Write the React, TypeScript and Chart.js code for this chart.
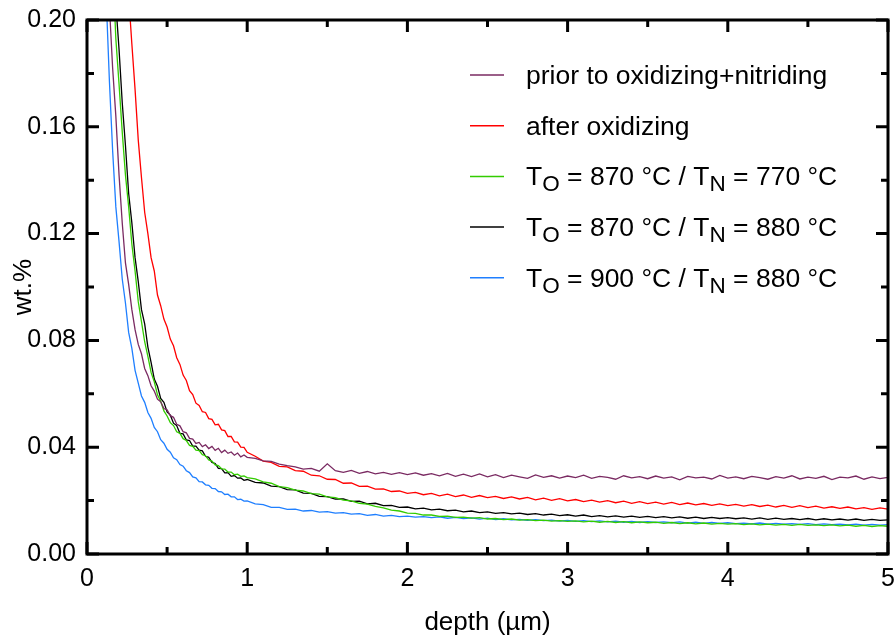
import React, { useEffect, useRef } from "react";
import { Chart, registerables } from "chart.js";

Chart.register(...registerables);

// depth in µm
const depth = [
  0.10, 0.12, 0.14, 0.16, 0.18, 0.20, 0.22, 0.24, 0.26, 0.28,
  0.30, 0.32, 0.34, 0.36, 0.38, 0.40, 0.42, 0.44, 0.46, 0.48,
  0.50, 0.52, 0.54, 0.56, 0.58, 0.60, 0.62, 0.64, 0.66, 0.68,
  0.70, 0.72, 0.74, 0.76, 0.78, 0.80, 0.82, 0.84, 0.86, 0.88,
  0.90, 0.92, 0.94, 0.96, 0.98, 1.00,
  1.05, 1.10, 1.15, 1.20, 1.25, 1.30, 1.35, 1.40, 1.45, 1.50,
  1.55, 1.60, 1.65, 1.70, 1.75, 1.80, 1.85, 1.90, 1.95, 2.00,
  2.05, 2.10, 2.15, 2.20, 2.25, 2.30, 2.35, 2.40, 2.45, 2.50,
  2.55, 2.60, 2.65, 2.70, 2.75, 2.80, 2.85, 2.90, 2.95, 3.00,
  3.05, 3.10, 3.15, 3.20, 3.25, 3.30, 3.35, 3.40, 3.45, 3.50,
  3.55, 3.60, 3.65, 3.70, 3.75, 3.80, 3.85, 3.90, 3.95, 4.00,
  4.05, 4.10, 4.15, 4.20, 4.25, 4.30, 4.35, 4.40, 4.45, 4.50,
  4.55, 4.60, 4.65, 4.70, 4.75, 4.80, 4.85, 4.90, 4.95, 5.00,
];

// wt.% – prior to oxidizing+nitriding
const priorToOxNit = [
  0.255, 0.229, 0.205, 0.182, 0.164, 0.142, 0.124, 0.109, 0.101, 0.0915,
  0.0840, 0.0785, 0.0750, 0.0695, 0.0668, 0.0630, 0.0610, 0.0580, 0.0570, 0.0545,
  0.0540, 0.0518, 0.0512, 0.0486, 0.0480, 0.0458, 0.0454, 0.0433, 0.0430, 0.0414,
  0.0418, 0.0402, 0.0409, 0.0395, 0.0403, 0.0388, 0.0396, 0.0380, 0.0389, 0.0377,
  0.0382, 0.0370, 0.0378, 0.0364, 0.0371, 0.0362,
  0.0358, 0.0349, 0.0347, 0.0337, 0.0331, 0.0326, 0.0318, 0.0321, 0.0310, 0.0338,
  0.0312, 0.0306, 0.0313, 0.0302, 0.0309, 0.0300, 0.0306, 0.0298, 0.0305, 0.0297,
  0.0304, 0.0295, 0.0301, 0.0293, 0.0302, 0.0291, 0.0299, 0.0290, 0.0300, 0.0289,
  0.0297, 0.0286, 0.0295, 0.0289, 0.0283, 0.0296, 0.0287, 0.0293, 0.0284, 0.0292,
  0.0286, 0.0295, 0.0283, 0.0291, 0.0287, 0.0280, 0.0293, 0.0285, 0.0290, 0.0282,
  0.0292, 0.0284, 0.0289, 0.0278, 0.0291, 0.0285, 0.0288, 0.0281, 0.0294, 0.0284,
  0.0289, 0.0282, 0.0291, 0.0286, 0.0280, 0.0290, 0.0284, 0.0293, 0.0281, 0.0288,
  0.0283, 0.0291, 0.0279, 0.0288, 0.0285, 0.0292, 0.0280, 0.0289, 0.0282, 0.0287,
];

// wt.% – after oxidizing
const afterOxidizing = [
  0.360, 0.340, 0.320, 0.300, 0.280, 0.263, 0.245, 0.227, 0.209, 0.191,
  0.174, 0.155, 0.141, 0.128, 0.120, 0.111, 0.106, 0.097, 0.093, 0.0880,
  0.0850, 0.0805, 0.0780, 0.0735, 0.0710, 0.0670, 0.0650, 0.0612, 0.0597, 0.0565,
  0.0556, 0.0533, 0.0530, 0.0507, 0.0504, 0.0484, 0.0486, 0.0465, 0.0462, 0.0440,
  0.0440, 0.0420, 0.0419, 0.0400, 0.0399, 0.0381,
  0.0366, 0.0348, 0.0343, 0.0328, 0.0326, 0.0312, 0.0310, 0.0295, 0.0293, 0.0280,
  0.0279, 0.0265, 0.0266, 0.0253, 0.0254, 0.0243, 0.0244, 0.0234, 0.0236, 0.0227,
  0.0231, 0.0222, 0.0227, 0.0218, 0.0224, 0.0215, 0.0221, 0.0212, 0.0219, 0.0211,
  0.0216, 0.0208, 0.0214, 0.0206, 0.0212, 0.0203, 0.0209, 0.0201, 0.0207, 0.0199,
  0.0204, 0.0196, 0.0202, 0.0194, 0.0200, 0.0192, 0.0198, 0.0190, 0.0196, 0.0189,
  0.0194, 0.0187, 0.0193, 0.0185, 0.0191, 0.0184, 0.0189, 0.0182, 0.0188, 0.0181,
  0.0186, 0.0179, 0.0185, 0.0178, 0.0183, 0.0176, 0.0182, 0.0175, 0.0181, 0.0174,
  0.0179, 0.0172, 0.0177, 0.0171, 0.0176, 0.0169, 0.0174, 0.0167, 0.0173, 0.0168,
];

// wt.% – T_O = 870 °C / T_N = 770 °C
const tO870tN770 = [
  0.300, 0.272, 0.246, 0.221, 0.193, 0.176, 0.158, 0.142, 0.130, 0.116,
  0.106, 0.0945, 0.0870, 0.0795, 0.0740, 0.0680, 0.0645, 0.0596, 0.0572, 0.0536,
  0.0517, 0.0492, 0.0481, 0.0458, 0.0452, 0.0432, 0.0425, 0.0407, 0.0403, 0.0389,
  0.0387, 0.0372, 0.0368, 0.0352, 0.0348, 0.0334, 0.0331, 0.0319, 0.0318, 0.0307,
  0.0307, 0.0297, 0.0299, 0.0291, 0.0292, 0.0286,
  0.0281, 0.0270, 0.0265, 0.0252, 0.0249, 0.0239, 0.0236, 0.0226, 0.0224, 0.0214,
  0.0211, 0.0202, 0.0199, 0.0190, 0.0187, 0.0178, 0.0173, 0.0164, 0.0161, 0.0153,
  0.0152, 0.0146, 0.0146, 0.0141, 0.0142, 0.0137, 0.0138, 0.0134, 0.0136, 0.0131,
  0.0133, 0.0129, 0.0131, 0.0127, 0.0129, 0.0125, 0.0127, 0.0123, 0.0125, 0.0122,
  0.0124, 0.0120, 0.0123, 0.0119, 0.0122, 0.0118, 0.0121, 0.0117, 0.0120, 0.0117,
  0.0119, 0.0115, 0.0118, 0.0114, 0.0117, 0.0113, 0.0116, 0.0112, 0.0115, 0.0112,
  0.0114, 0.0110, 0.0113, 0.0109, 0.0112, 0.0108, 0.0111, 0.0107, 0.0111, 0.0107,
  0.0109, 0.0106, 0.0109, 0.0105, 0.0108, 0.0104, 0.0107, 0.0103, 0.0106, 0.0104,
];

// wt.% – T_O = 870 °C / T_N = 880 °C
const tO870tN880 = [
  0.310, 0.285, 0.260, 0.235, 0.206, 0.189, 0.169, 0.153, 0.135, 0.124,
  0.111, 0.102, 0.0915, 0.0862, 0.0775, 0.0718, 0.0655, 0.0628, 0.0583, 0.0568,
  0.0532, 0.0520, 0.0490, 0.0481, 0.0452, 0.0450, 0.0427, 0.0425, 0.0404, 0.0404,
  0.0389, 0.0386, 0.0366, 0.0362, 0.0343, 0.0339, 0.0321, 0.0320, 0.0304, 0.0305,
  0.0291, 0.0294, 0.0284, 0.0285, 0.0276, 0.0279,
  0.0268, 0.0266, 0.0254, 0.0252, 0.0241, 0.0240, 0.0228, 0.0227, 0.0216, 0.0215,
  0.0206, 0.0206, 0.0197, 0.0198, 0.0188, 0.0190, 0.0181, 0.0182, 0.0175, 0.0176,
  0.0169, 0.0172, 0.0165, 0.0168, 0.0162, 0.0164, 0.0158, 0.0161, 0.0155, 0.0158,
  0.0152, 0.0155, 0.0150, 0.0153, 0.0148, 0.0151, 0.0146, 0.0149, 0.0144, 0.0147,
  0.0142, 0.0146, 0.0140, 0.0144, 0.0139, 0.0143, 0.0138, 0.0142, 0.0137, 0.0141,
  0.0136, 0.0140, 0.0135, 0.0139, 0.0134, 0.0138, 0.0133, 0.0137, 0.0133, 0.0136,
  0.0132, 0.0135, 0.0131, 0.0135, 0.0130, 0.0134, 0.0130, 0.0133, 0.0129, 0.0133,
  0.0128, 0.0132, 0.0128, 0.0131, 0.0127, 0.0131, 0.0126, 0.0130, 0.0126, 0.0128,
];

// wt.% – T_O = 900 °C / T_N = 880 °C
const tO900tN880 = [
  0.245, 0.208, 0.177, 0.151, 0.130, 0.117, 0.103, 0.094, 0.083, 0.0770,
  0.0688, 0.0640, 0.0592, 0.0568, 0.0530, 0.0508, 0.0474, 0.0458, 0.0428, 0.0415,
  0.0392, 0.0381, 0.0360, 0.0353, 0.0335, 0.0329, 0.0312, 0.0305, 0.0289, 0.0285,
  0.0271, 0.0270, 0.0259, 0.0257, 0.0246, 0.0245, 0.0234, 0.0233, 0.0223, 0.0224,
  0.0214, 0.0214, 0.0204, 0.0205, 0.0198, 0.0199,
  0.0188, 0.0185, 0.0175, 0.0175, 0.0167, 0.0168, 0.0161, 0.0163, 0.0157, 0.0159,
  0.0153, 0.0155, 0.0149, 0.0151, 0.0145, 0.0148, 0.0142, 0.0145, 0.0140, 0.0142,
  0.0138, 0.0140, 0.0136, 0.0139, 0.0134, 0.0137, 0.0133, 0.0135, 0.0131, 0.0134,
  0.0129, 0.0132, 0.0128, 0.0130, 0.0126, 0.0129, 0.0125, 0.0127, 0.0123, 0.0126,
  0.0122, 0.0125, 0.0121, 0.0124, 0.0120, 0.0123, 0.0119, 0.0122, 0.0118, 0.0121,
  0.0118, 0.0120, 0.0117, 0.0120, 0.0116, 0.0119, 0.0115, 0.0118, 0.0115, 0.0117,
  0.0114, 0.0116, 0.0113, 0.0116, 0.0112, 0.0115, 0.0112, 0.0114, 0.0111, 0.0114,
  0.0110, 0.0113, 0.0110, 0.0112, 0.0109, 0.0112, 0.0108, 0.0111, 0.0108, 0.0110,
];

const seriesLabels = [
  "prior to oxidizing+nitriding",
  "after oxidizing",
  "T_O = 870 °C / T_N = 770 °C",
  "T_O = 870 °C / T_N = 880 °C",
  "T_O = 900 °C / T_N = 880 °C",
];
const seriesColors = ["#7a2a62", "#ff0000", "#33cc00", "#000000", "#1f7fff"];
const seriesValues = [priorToOxNit, afterOxidizing, tO870tN770, tO870tN880, tO900tN880];

const xTitle = "depth (µm)";
const yTitle = "wt.%";

const FONT = "'Liberation Sans', Arial, Helvetica, sans-serif";

const frameTicksPlugin = {
  id: "frameTicks",
  afterDatasetsDraw(chart: any) {
    const { ctx, chartArea: a, scales } = chart;
    const xs = scales.x;
    const ys = scales.y;
    const major = 12;
    const minor = 7;
    ctx.save();
    ctx.strokeStyle = "#000";
    ctx.lineWidth = 3;
    ctx.lineCap = "butt";
    ctx.beginPath();
    const xv = xs.ticks.map((t: any) => t.value);
    const yv = ys.ticks.map((t: any) => t.value);
    const xTick = (v: number, len: number) => {
      const p = xs.getPixelForValue(v);
      ctx.moveTo(p, a.bottom);
      ctx.lineTo(p, a.bottom - len);
      ctx.moveTo(p, a.top);
      ctx.lineTo(p, a.top + len);
    };
    const yTick = (v: number, len: number) => {
      const p = ys.getPixelForValue(v);
      ctx.moveTo(a.left, p);
      ctx.lineTo(a.left + len, p);
      ctx.moveTo(a.right, p);
      ctx.lineTo(a.right - len, p);
    };
    xv.forEach((v: number, i: number) => {
      xTick(v, major);
      if (i < xv.length - 1) xTick((v + xv[i + 1]) / 2, minor);
    });
    yv.forEach((v: number, i: number) => {
      yTick(v, major);
      if (i < yv.length - 1) yTick((v + yv[i + 1]) / 2, minor);
    });
    ctx.stroke();
    ctx.strokeRect(a.left, a.top, a.right - a.left, a.bottom - a.top);

    // tick labels (from the scales' own ticks)
    ctx.fillStyle = "#000";
    ctx.font = `25px ${FONT}`;
    ctx.textBaseline = "middle";
    ctx.textAlign = "center";
    xs.ticks.forEach((t: any) => {
      ctx.fillText(String(t.value), xs.getPixelForValue(t.value), a.bottom + 25);
    });
    ctx.textAlign = "right";
    ys.ticks.forEach((t: any) => {
      ctx.fillText(Number(t.value).toFixed(2), a.left - 11, ys.getPixelForValue(t.value));
    });

    // axis titles
    ctx.font = `26px ${FONT}`;
    ctx.textAlign = "center";
    ctx.textBaseline = "middle";
    ctx.fillText(xTitle, (a.left + a.right) / 2, a.bottom + 69);
    ctx.save();
    ctx.translate(a.left - 63, (a.top + a.bottom) / 2);
    ctx.rotate(-Math.PI / 2);
    ctx.fillText(yTitle, 0, 0);
    ctx.restore();
    ctx.restore();
  },
};

const legendPlugin = {
  id: "customLegend",
  afterDraw(chart: any) {
    const { ctx, chartArea: a } = chart;
    const lineX0 = a.left + 383;
    const lineX1 = a.left + 417;
    const textX = a.left + 439;
    const y0 = a.top + 55;
    const gap = 50.7;
    const size = 26.5;
    const subSize = 22.5;
    ctx.save();
    ctx.textBaseline = "alphabetic";
    ctx.textAlign = "left";
    seriesLabels.forEach((label, i) => {
      const y = y0 + i * gap;
      ctx.strokeStyle = seriesColors[i];
      ctx.lineWidth = 1.5;
      ctx.beginPath();
      ctx.moveTo(lineX0, y);
      ctx.lineTo(lineX1, y);
      ctx.stroke();
      ctx.fillStyle = "#000";
      const parts = label.split(/_(\w)/);
      let x = textX;
      const base = y + 9;
      parts.forEach((p, k) => {
        const sub = k % 2 === 1;
        ctx.font = `${sub ? subSize : size}px ${FONT}`;
        ctx.fillText(p, x, sub ? base + 6 : base);
        x += ctx.measureText(p).width;
      });
    });
    ctx.restore();
  },
};

export default function App() {
  const ref = useRef<HTMLCanvasElement | null>(null);
  useEffect(() => {
    document.body.style.margin = "0";
    const canvas = ref.current;
    if (!canvas) return;
    const datasets = seriesLabels.map((label, i) => ({
      label,
      data: depth.map((d, k) => ({ x: d, y: seriesValues[i][k] })),
      borderColor: seriesColors[i],
      backgroundColor: seriesColors[i],
      borderWidth: 1.3,
      pointRadius: 0,
      tension: 0,
      fill: false,
    }));
    const chart = new Chart(canvas, {
      type: "line",
      data: { datasets },
      options: {
        animation: false,
        responsive: false,
        devicePixelRatio: 1,
        layout: { padding: { left: 0, right: 6, top: 20, bottom: 0 } },
        plugins: { legend: { display: false }, tooltip: { enabled: false } },
        scales: {
          x: {
            type: "linear",
            min: 0,
            max: 5,
            grid: { display: false, drawTicks: false },
            border: { display: false },
            ticks: { stepSize: 1, display: false },
            afterFit: (s: any) => {
              s.height = 90;
            },
          },
          y: {
            type: "linear",
            min: 0,
            max: 0.2,
            grid: { display: false, drawTicks: false },
            border: { display: false },
            ticks: { stepSize: 0.04, display: false },
            afterFit: (s: any) => {
              s.width = 87;
            },
          },
        },
      },
      plugins: [frameTicksPlugin, legendPlugin],
    });
    return () => chart.destroy();
  }, []);
  return (
    <div style={{ width: 894, height: 644 }}>
      <canvas ref={ref} width={894} height={644} style={{ display: "block" }} />
    </div>
  );
}
